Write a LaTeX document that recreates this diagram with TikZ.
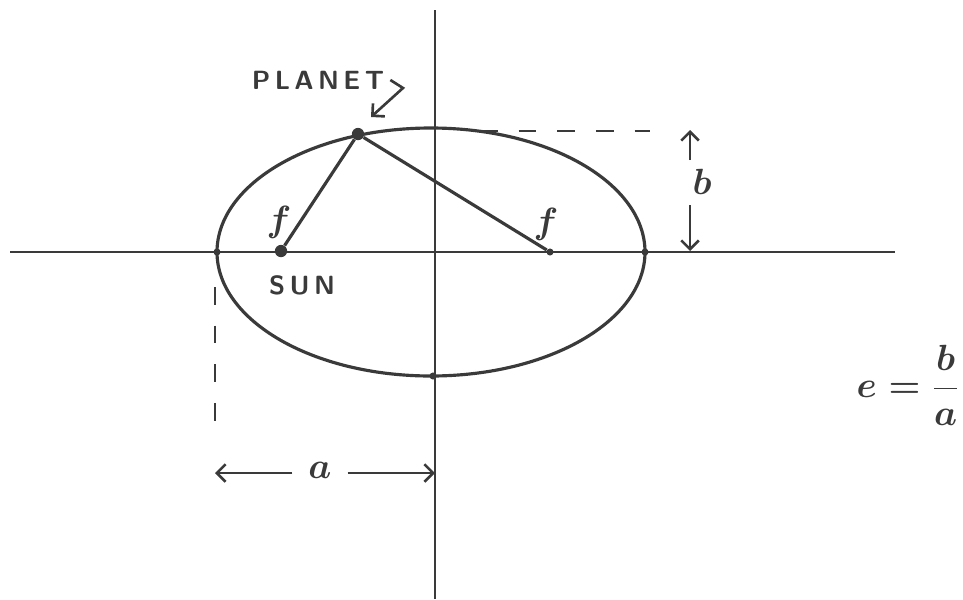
\documentclass[tikz,border=0pt]{standalone}
\usepackage{amsmath}
\usepackage{tikz}
\usetikzlibrary{arrows.meta}
\definecolor{inkgrey}{HTML}{3A3A3A}

\begin{document}
\begin{tikzpicture}[x=0.02cm, y=-0.02cm,
    ink/.style={draw=inkgrey, line width=1.8pt},
    axisline/.style={draw=inkgrey, line width=1.3pt},
    dimline/.style={draw=inkgrey, line width=1.5pt, -{Straight Barb[length=5pt, width=10pt]}},
    guide/.style={draw=inkgrey, line width=1.5pt, dash pattern=on 10pt off 12pt},
    blob/.style={circle, fill=inkgrey, inner sep=0pt, minimum size=#1},
    caps/.style={text=inkgrey, font=\sffamily\bfseries\fontsize{15}{17}\selectfont},
    mathlbl/.style={text=inkgrey, font=\boldmath\fontsize{20}{24}\selectfont}]
  \useasboundingbox (0,0) rectangle (963,599);
  % axes
  \coordinate (xleft) at (10,252);
  \coordinate (xright) at (895,252);
  \coordinate (ytop) at (435,10);
  \coordinate (ybot) at (435,599);
  \draw[axisline] (xleft) -- (xright);
  \draw[axisline] (ytop) -- (ybot);
  % orbit
  \coordinate (ctr) at (431,252);
  \draw[ink] (ctr) ellipse [x radius=214, y radius=124];
  \node[blob=4pt] (vleft) at (217,252) {};
  \node[blob=4pt] (vright) at (645,252) {};
  \node[blob=4pt] (vbot) at (433,376) {};
  % foci and planet
  \node[blob=7pt] (sun) at (281,251) {};
  \node[blob=4pt] (focus) at (550,252) {};
  \node[blob=7pt] (planet) at (358,134) {};
  \draw[ink] (planet) -- (sun);
  \draw[ink] (planet) -- (focus);
  \node[mathlbl] (fleft) at (279,222) {$f$};
  \node[mathlbl] (fright) at (546,224) {$f$};
  \node[caps] (sunlbl) at (302,285) {S\,U\,N};
  \node[caps] (planetlbl) at (318,80) {P\,L\,A\,N\,E\,T};
  \coordinate (kink) at (403,88);
  \coordinate (pointer) at (371,117);
  \draw[dimline] (planetlbl.east) -- (kink) -- (pointer);
  % b
  \coordinate (guidetop) at (480,131);
  \coordinate (guidetopend) at (650,131);
  \draw[guide] (guidetop) -- (guidetopend);
  \node[mathlbl] (blbl) at (702,182) {$b$};
  \coordinate (bup) at (690,130);
  \coordinate (bdown) at (690,251);
  \draw[dimline] (690,160) -- (bup);
  \draw[dimline] (690,205) -- (bdown);
  % a
  \coordinate (guideleft) at (215,287);
  \coordinate (guideleftend) at (215,430);
  \draw[guide] (guideleft) -- (guideleftend);
  \node[mathlbl, inner xsep=9pt] (albl) at (320,470) {$a$};
  \coordinate (aleft) at (215,473);
  \coordinate (aright) at (435,473);
  \draw[dimline] (albl.west |- aleft) -- (aleft);
  \draw[dimline] (albl.east |- aright) -- (aright);
  % eccentricity
  \node[mathlbl, font=\boldmath\fontsize{22}{26}\selectfont] (ecc) at (908,385) {$e=\dfrac{b}{a}$};
\end{tikzpicture}
\end{document}
